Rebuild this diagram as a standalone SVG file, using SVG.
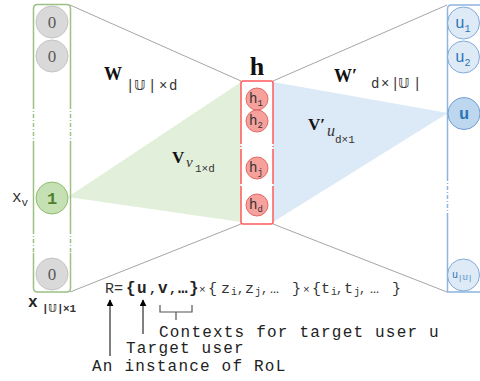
<svg xmlns="http://www.w3.org/2000/svg" width="480" height="381" viewBox="0 0 480 381">
<defs>
<marker id="arr" viewBox="0 0 10 10" refX="9" refY="5" markerWidth="7" markerHeight="7" orient="auto-start-reverse" markerUnits="userSpaceOnUse"><path d="M0,0 L10,5 L0,10 z" fill="#000"/></marker>
</defs>
<style>
.mono{font-family:"Liberation Mono","DejaVu Sans Mono","DejaVu Sans",monospace}
.serif{font-family:"Liberation Serif","DejaVu Serif",serif}
.gl{stroke:#a6a6a6;stroke-width:1;fill:none}
.gcol{stroke:#9cc084;stroke-width:1.5;fill:none}
.rcol{stroke:#ff5a5a;stroke-width:1.5;fill:none}
.bcol{stroke:#8db4e2;stroke-width:1.5;fill:none}
.dash{stroke-dasharray:4 2 1 2}
.gc{fill:#d9d9d9;stroke:#c4c4c4;stroke-width:1}
.hc{fill:#f7a19d;stroke:#e26a66;stroke-width:1}
.uc{fill:#deebf7;stroke:#7eaadb;stroke-width:1}
.t0{font-size:17px;fill:#595959;text-anchor:middle}
.ht{font-size:14px;fill:#333}
.hs{font-size:9px;fill:#333}
.ut{font-size:16px;fill:#2e75b6}
.us{font-size:10px;fill:#2e75b6}
.ann{font-size:16px;letter-spacing:1.2px;fill:#222}
.r{font-size:15px;fill:#333}
.rc{font-size:12px;fill:#333}
.rb{font-size:16px;font-weight:bold;fill:#222}
.rbc{font-size:13px;font-weight:bold;fill:#222}
.rs{font-size:10px;fill:#333}
.rx{font-size:11px;fill:#333}
</style>
<g id="connectors">
<polygon points="68,197 241,82 241,222" fill="#e2efda"/>
<polygon points="273,82 273,222 448,113" fill="#dce9f6"/>
<line class="gl" x1="70" y1="5" x2="241" y2="81"/>
<line class="gl" x1="70" y1="292" x2="241" y2="224"/>
<line class="gl" x1="273" y1="81" x2="447" y2="5"/>
<line class="gl" x1="273" y1="224" x2="447" y2="292"/>
<line x1="110" y1="356" x2="110" y2="300" stroke="#000" stroke-width="1" marker-end="url(#arr)"/>
<line x1="143" y1="334" x2="143" y2="300" stroke="#000" stroke-width="1" marker-end="url(#arr)"/>
<path d="M160,305 V312 H192 V305 M176,312 V320" stroke="#555" stroke-width="1.2" fill="none"/>
</g>
<g id="input-layer">
<path class="gcol" d="M33.5,105 V8.5 Q33.5,4.5 37.5,4.5 H66.5 Q70.5,4.5 70.5,8.5 V105"/>
<path class="gcol dash" d="M33.5,105 V142 M70.5,105 V142"/>
<path class="gcol" d="M33.5,142 V230 M70.5,142 V230"/>
<path class="gcol dash" d="M33.5,230 V253 M70.5,230 V253"/>
<path class="gcol" d="M33.5,253 V288 Q33.5,292 37.5,292 H66.5 Q70.5,292 70.5,288 V253"/>
<g id="x1"><circle class="gc" cx="52" cy="22" r="16"/><text class="serif t0" x="52" y="28">0</text></g>
<g id="x2"><circle class="gc" cx="52" cy="56" r="16"/><text class="serif t0" x="52" y="62">0</text></g>
<g id="xv"><circle cx="52" cy="198" r="16" fill="#c5e0b3" stroke="#8fbc6f" stroke-width="1"/><text class="mono" x="52" y="204" font-size="17" font-weight="bold" fill="#4e7f2f" text-anchor="middle">1</text></g>
<g id="xn"><circle class="gc" cx="52" cy="274" r="16"/><text class="serif t0" x="52" y="280">0</text></g>
<text class="mono" x="12" y="202" font-size="16" fill="#333">x<tspan font-size="11" dy="4">v</tspan></text>
<text class="mono" x="28" y="307" font-size="16" font-weight="bold" fill="#222">x</text>
<text class="mono" font-size="11" font-weight="bold" fill="#333" y="312"><tspan x="42">|</tspan><tspan x="48">𝕌</tspan><tspan x="57">|</tspan><tspan x="63">×1</tspan></text>
</g>
<g id="hidden-layer">
<text class="serif" x="257" y="75" font-size="26" font-weight="bold" fill="#111" text-anchor="middle">h</text>
<path class="rcol" d="M241,140 V83 Q241,81 243,81 H271 Q273,81 273,83 V140"/>
<path class="rcol dash" d="M241,140 V150 M273,140 V150"/>
<path class="rcol" d="M241,150 V180 M273,150 V180"/>
<path class="rcol dash" d="M241,180 V187 M273,180 V187"/>
<path class="rcol" d="M241,187 V222 Q241,224 243,224 H271 Q273,224 273,222 V187"/>
<g id="h1"><circle class="hc" cx="257" cy="99" r="11"/><text class="mono ht" x="249" y="103">h<tspan class="hs" dy="3">1</tspan></text></g>
<g id="h2"><circle class="hc" cx="257" cy="121" r="11"/><text class="mono ht" x="249" y="125">h<tspan class="hs" dy="3">2</tspan></text></g>
<g id="hj"><circle class="hc" cx="257" cy="168" r="11"/><text class="mono ht" x="249" y="172">h<tspan class="hs" dy="3">j</tspan></text></g>
<g id="hd"><circle class="hc" cx="257" cy="205" r="11"/><text class="mono ht" x="249" y="209">h<tspan class="hs" dy="3">d</tspan></text></g>
</g>
<g id="output-layer">
<path class="bcol" d="M447.5,177 V9 Q447.5,5 451.5,5 H480"/>
<path class="bcol dash" d="M447.5,177 V215"/>
<path class="bcol" d="M447.5,215 V292 H480"/>
<g id="u1"><circle class="uc" cx="463.5" cy="23" r="16"/><text class="mono ut" x="455" y="28">u<tspan class="us" dy="4">1</tspan></text></g>
<g id="u2"><circle class="uc" cx="463.5" cy="57" r="16"/><text class="mono ut" x="455" y="62">u<tspan class="us" dy="4">2</tspan></text></g>
<g id="u"><circle cx="464" cy="113.5" r="16" fill="#bdd7ee" stroke="#6f9fd3" stroke-width="1"/><text class="mono" x="464" y="119" font-size="17" font-weight="bold" fill="#2e75b6" text-anchor="middle">u</text></g>
<g id="un"><circle class="uc" cx="463.5" cy="275" r="16"/><text class="mono" x="452" y="278" font-size="10" fill="#2e75b6">u<tspan font-size="7" dy="2">|𝕌|</tspan></text></g>
</g>
<g id="labels">
<text class="serif" x="104" y="80" font-size="18" font-weight="bold" fill="#111">W</text>
<text class="mono" font-size="14" fill="#333" y="90"><tspan x="126">|</tspan><tspan x="134">𝕌</tspan><tspan x="148">|</tspan><tspan x="159">×</tspan><tspan x="169">d</tspan></text>
<text class="serif" x="334" y="82" font-size="18" font-weight="bold" fill="#111">W′</text>
<text class="mono" font-size="14" fill="#333" y="88"><tspan x="371">d</tspan><tspan x="381">×</tspan><tspan x="391">|</tspan><tspan x="398">𝕌</tspan><tspan x="413">|</tspan></text>
<text class="serif" x="308" y="130" font-size="17" font-weight="bold" fill="#111">V′</text>
<text class="serif" x="327" y="136" font-size="16" font-style="italic" fill="#333">u</text>
<text class="mono" x="335" y="143" font-size="11" fill="#333">d×1</text>
<text class="serif" x="172" y="163" font-size="17" font-weight="bold" fill="#111">V</text>
<text class="serif" x="186" y="167" font-size="15" font-style="italic" fill="#333">v</text>
<text class="mono" x="195" y="172" font-size="11" fill="#333">1×d</text>
<text class="mono" y="293"><tspan class="r" x="105">R=</tspan><tspan class="rb" x="126">{</tspan><tspan class="rb" x="137" fill="#2e75b6">u</tspan><tspan class="rbc" x="149">,</tspan><tspan class="rb" x="158" fill="#548235">v</tspan><tspan class="rbc" x="169">,</tspan><tspan class="rb" x="178">…</tspan><tspan class="rb" x="189">}</tspan><tspan class="rx" x="199">×</tspan><tspan class="r" x="208">{</tspan><tspan class="r" x="221">z</tspan><tspan class="rs" x="231" y="295">i</tspan><tspan class="rc" x="237" y="293">,</tspan><tspan class="r" x="245">z</tspan><tspan class="rs" x="255" y="295">j</tspan><tspan class="rc" x="261" y="293">,</tspan><tspan class="r" x="270">…</tspan><tspan class="r" x="292">}</tspan><tspan class="rx" x="303">×</tspan><tspan class="r" x="312">{</tspan><tspan class="r" x="321">t</tspan><tspan class="rs" x="331" y="295">i</tspan><tspan class="rc" x="336" y="293">,</tspan><tspan class="r" x="344">t</tspan><tspan class="rs" x="354" y="295">j</tspan><tspan class="rc" x="359" y="293">,</tspan><tspan class="r" x="370">…</tspan><tspan class="r" x="392">}</tspan></text>
<text class="mono ann" x="159" y="337">Contexts for target user u</text>
<text class="mono ann" x="126" y="353">Target user</text>
<text class="mono ann" x="92" y="371">An instance of RoL</text>
</g>
</svg>
